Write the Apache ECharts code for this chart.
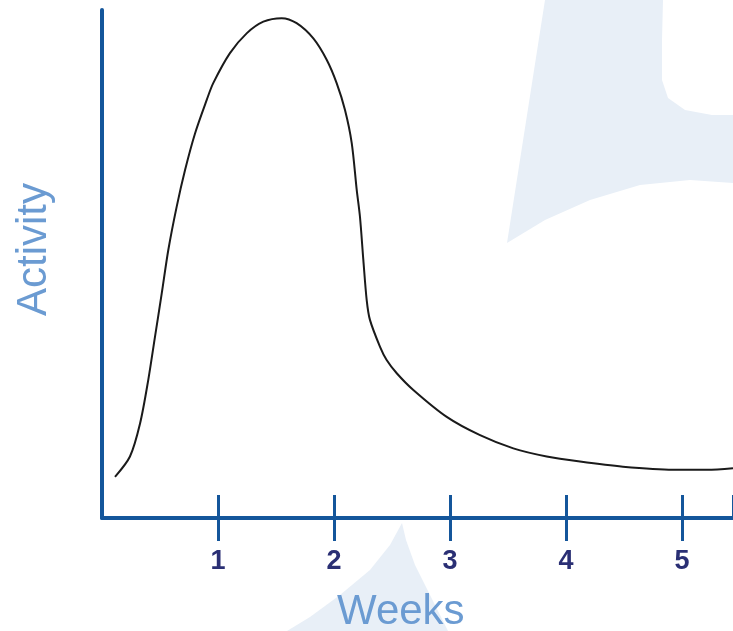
<!DOCTYPE html>
<html>
<head>
<meta charset="utf-8">
<title>Activity over weeks</title>
<script src="https://cdn.jsdelivr.net/npm/echarts@6/dist/echarts.min.js"></script>
<style>
html, body { margin: 0; padding: 0; background: #fff; }
#main { width: 733px; height: 631px; }
</style>
</head>
<body>
<div id="main"></div>
<script>
// data (x in weeks, y on a 0-100 scale)
var weeks = [0.112, 0.241, 0.328, 0.399, 0.457, 0.515, 0.572, 0.644, 0.716, 0.802, 0.903, 0.959, 1.103, 1.247, 1.391, 1.549, 1.678, 1.822, 1.937, 2.023, 2.095, 2.153, 2.196, 2.224, 2.253, 2.282, 2.31, 2.397, 2.454, 2.541, 2.684, 2.972, 3.259, 3.546, 3.834, 4.121, 4.491, 4.922, 5.216, 5.44];
var activity = [8.1, 12.1, 18.6, 27.2, 35.7, 44.2, 52.8, 61.3, 68.5, 75.7, 82.3, 85.6, 91.5, 95.4, 97.7, 98.4, 97.4, 94.4, 90.2, 85.6, 80.3, 73.8, 64.6, 59.3, 50.8, 42.9, 39.0, 33.7, 31.1, 28.5, 25.2, 19.9, 16.3, 13.7, 12.1, 11.1, 10.1, 9.5, 9.5, 9.8];
var tickWeeks = [1, 2, 3, 4, 5];

var axisBlue = '#14569b';
var points = weeks.map(function(w, i) {
	return [w, activity[i]];
});

var chart = echarts.init(document.getElementById('main'));
chart.setOption({
	animation: false,
	backgroundColor: '#fff',
	grid: {
		left: 102,
		right: 0,
		top: 10,
		bottom: 113
	},
	graphic: [{
		//背景水印
		type: 'polygon',
		z: -10,
		silent: true,
		shape: {
			points: [[545, 0], [663, 0], [662, 40], [662, 80], [668, 98], [685, 110], [712, 115], [733, 115], [733, 183], [690, 180], [640, 185], [590, 200], [545, 220], [507, 243]]
		},
		style: { fill: '#e8eff7' }
	}, {
		type: 'polygon',
		z: -10,
		silent: true,
		shape: {
			points: [[402, 523], [390, 545], [370, 570], [340, 595], [310, 617], [287, 631], [448, 631], [430, 595], [415, 565], [406, 540]]
		},
		style: { fill: '#e8eff7' }
	}, {
		type: 'text',
		left: 337,
		top: 591,
		style: {
			text: 'Weeks',
			fill: '#6b9bd2',
			font: '42px "Liberation Sans", Arial, sans-serif'
		}
	}, {
		type: 'text',
		rotation: Math.PI / 2,
		x: 13,
		y: 316,
		style: {
			text: 'Activity',
			fill: '#6b9bd2',
			font: '42px "Liberation Sans", Arial, sans-serif'
		}
	}],
	xAxis: [{
		type: 'value',
		min: 0,
		max: 5.44,
		interval: 1,
		splitLine: { show: false },
		axisLine: { lineStyle: { color: axisBlue, width: 4 } },
		axisTick: {
			show: true,
			length: 23,
			lineStyle: { color: axisBlue, width: 3 }
		},
		axisLabel: {
			margin: 30,
			color: '#2a2f74',
			fontSize: 27,
			fontWeight: 'bold',
			fontFamily: '"Liberation Sans Narrow", "Liberation Sans"',
			showMinLabel: false,
			showMaxLabel: false,
			formatter: function(v) {
				return tickWeeks.indexOf(v) >= 0 ? String(v) : '';
			}
		}
	}, {
		type: 'value',
		position: 'bottom',
		min: 0,
		max: 5.44,
		interval: 1,
		splitLine: { show: false },
		axisLine: { show: false },
		axisLabel: { show: false },
		axisTick: {
			show: true,
			inside: true,
			length: 23,
			lineStyle: { color: axisBlue, width: 3 }
		}
	}],
	yAxis: {
		type: 'value',
		min: 0,
		max: 100,
		splitLine: { show: false },
		axisLabel: { show: false },
		axisTick: { show: false },
		axisLine: { show: true, lineStyle: { color: axisBlue, width: 4 } }
	},
	series: [{
		type: 'line',
		data: points,
		smooth: 0.3,
		showSymbol: false,
		lineStyle: { color: '#1a1a1a', width: 2 }
	}]
});
</script>
</body>
</html>
